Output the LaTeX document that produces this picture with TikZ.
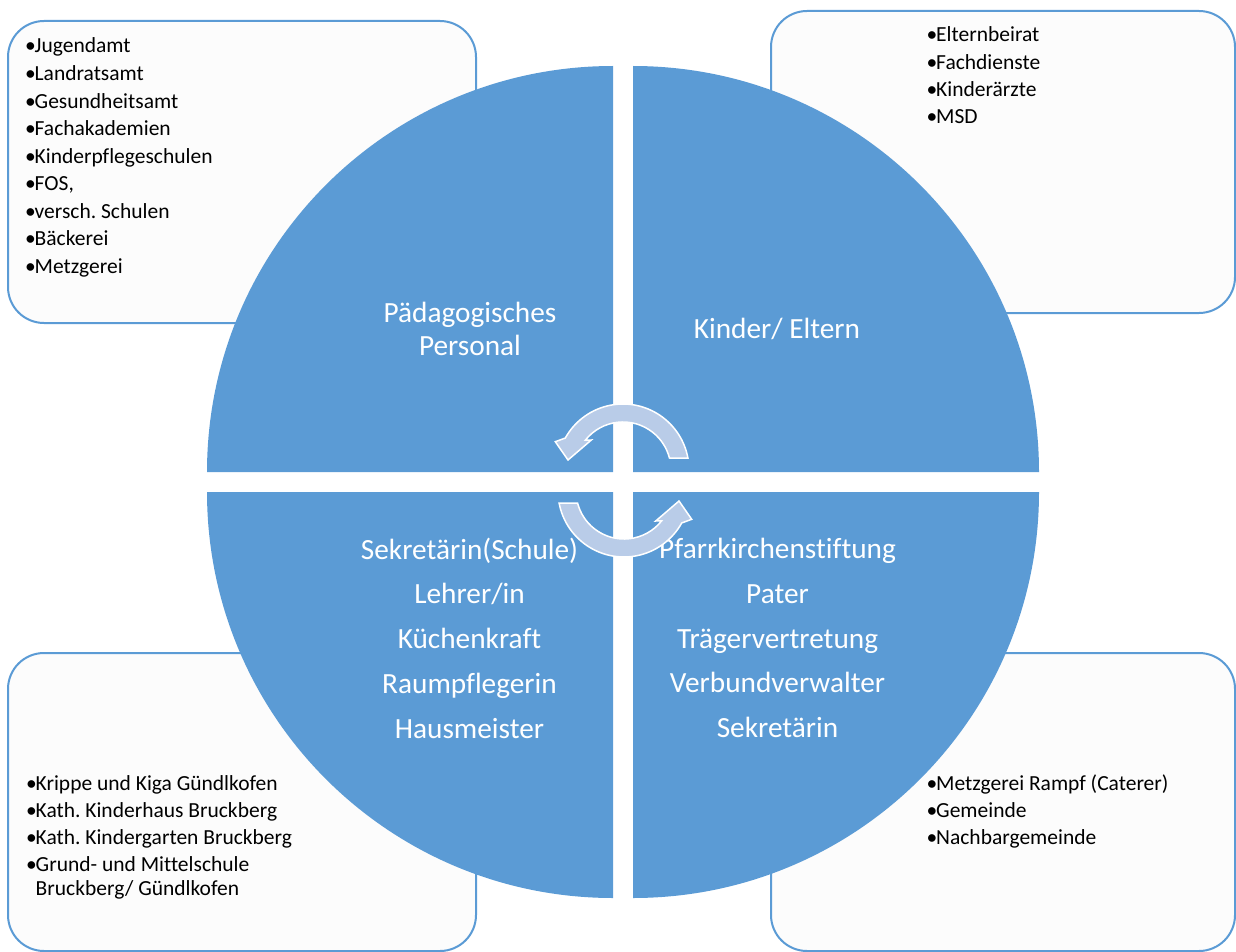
\documentclass[tikz,border=0pt]{standalone}
\usepackage{fontspec}
\setmainfont{Carlito}[Ligatures=NoCommon]
\frenchspacing
\definecolor{quad}{HTML}{5B9BD5}
\definecolor{boxline}{HTML}{5B9BD5}
\definecolor{boxfill}{HTML}{FCFCFC}
\definecolor{arrowfill}{HTML}{B9CCE8}
\tikzset{
  listbox/.style={draw=boxline, line width=2pt, fill=boxfill, rounded corners=36pt},
  quadrant/.style={fill=quad},
  listtext/.style={inner sep=0pt, anchor=base west, text=black, font=\fontsize{21.5}{26}\selectfont},
  bigtext/.style={inner sep=0pt, text=white, align=center},
  cyclearrow/.style={fill=arrowfill, draw=white, line width=1.5pt, line join=miter}
}
\newcommand{\bul}{\makebox[9.5pt][l]{•}}
\newcommand{\cyclepath}{%
  (46.5,-12) -- (64.9,-12) arc[start angle=-10.5, end angle=-151, radius=66]
  -- (-67.7,-28.3) -- (-55,-10) -- (-31.7,-30) -- (-37.6,-29.9)
  arc[start angle=-141.5, end angle=-14.5, radius=48] -- cycle}
\begin{document}
\begin{tikzpicture}[x=1pt, y=-1pt]
\useasboundingbox (0,0) rectangle (1236,952);
% outer boxes
\draw[listbox] (8,21) rectangle (476,323);
\draw[listbox] (771,11) rectangle (1235,313);
\draw[listbox] (8,653) rectangle (476,951);
\draw[listbox] (771,653) rectangle (1235,951);
% quadrants
\fill[quadrant] (613,472) -- ++(180:406) arc[start angle=180, end angle=270, radius=406] -- cycle;
\fill[quadrant] (633,472) -- ++(270:406) arc[start angle=270, end angle=360, radius=406] -- cycle;
\fill[quadrant] (633,492) -- ++(0:406) arc[start angle=0, end angle=90, radius=406] -- cycle;
\fill[quadrant] (613,492) -- ++(90:406) arc[start angle=90, end angle=180, radius=406] -- cycle;
% list texts
\foreach \t [count=\i] in {Jugendamt, Landratsamt, Gesundheitsamt, Fachakademien, Kinderpflegeschulen, {FOS,}, versch. Schulen, Bäckerei, Metzgerei}
  \node[listtext] (tl\i) at (25, {53+27.55*(\i-1)}) {\bul\t};
\foreach \t [count=\i] in {Elternbeirat, Fachdienste, Kinderärzte, MSD}
  \node[listtext] (tr\i) at (926.5, {42+27.2*(\i-1)}) {\bul\t};
\foreach \t [count=\i] in {Krippe und Kiga Gündlkofen, Kath. Kinderhaus Bruckberg, Kath. Kindergarten Bruckberg, Grund- und Mittelschule}
  \node[listtext] (bl\i) at (26, {790+27.3*(\i-1)}) {\bul\t};
\node[listtext] (bl5) at (26, 895.5) {\phantom{\bul}Bruckberg/ Gündlkofen};
\foreach \t [count=\i] in {Metzgerei Rampf (Caterer), Gemeinde, Nachbargemeinde}
  \node[listtext] (br\i) at (926.5, {790+27.3*(\i-1)}) {\bul\t};
% circle texts
\node[bigtext, font=\fontsize{29.3}{33}\selectfont] (ped) at (470,329) {Pädagogisches\\Personal};
\node[bigtext, font=\fontsize{29.3}{33}\selectfont] (kin) at (777,329) {Kinder/ Eltern};
\node[bigtext, font=\fontsize{29.3}{44.7}\selectfont] (sek) at (469.5,638) {Sekretärin(Schule)\\Lehrer/in\\Küchenkraft\\Raumpflegerin\\Hausmeister};
\node[bigtext, font=\fontsize{29.3}{44.7}\selectfont] (pfa) at (777.5,638) {Pfarrkirchenstiftung\\Pater\\Trägervertretung\\Verbundverwalter\\Sekretärin};
% circular arrows
\begin{scope}[shift={(623,470)}]
  \path[cyclearrow] \cyclepath;
\end{scope}
\begin{scope}[shift={(624,491)}, rotate=180]
  \path[cyclearrow] \cyclepath;
\end{scope}
\end{tikzpicture}
\end{document}
